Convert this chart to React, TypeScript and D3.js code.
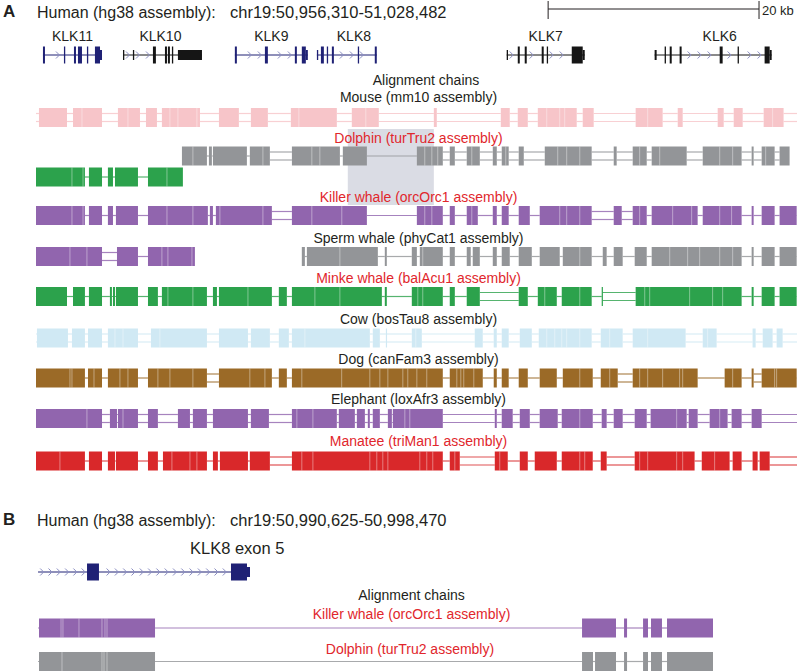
import React from 'react';
import * as d3 from 'd3';

type Block = [number, number];
type Exon = [number, number, 'c' | 'u'];

// ---------- DATA (all positions in kb from region start) ----------
const regionA = { chrom: 'chr19', start: 50956310, end: 51028482 };
const regionB = { chrom: 'chr19', start: 50990625, end: 50998470 };
const scaleBarKb = 20;
const scaleBarEndKb = 68.57;

const geneNames = ['KLK11', 'KLK10', 'KLK9', 'KLK8', 'KLK7', 'KLK6'];
const geneCanonical = [true, false, true, true, false, false];
const geneSpans: Block[] = [
  [0.66, 6.26], [8.25, 15.74], [18.86, 25.78], [26.64, 32.32], [44.64, 52.04], [58.67, 69.77],
];
const geneLabelKb = [3.46, 11.8, 22.32, 30.15, 48.34, 64.84];
const geneExons: Exon[][] = [
  [[0.66, 0.85, 'c'], [2.65, 2.75, 'c'], [3.6, 3.79, 'c'], [3.98, 4.36, 'c'], [4.83, 4.93, 'c'], [5.59, 6.07, 'c'], [6.07, 6.26, 'u']],
  [[8.25, 8.34, 'u'], [9.19, 9.29, 'u'], [11.09, 11.37, 'c'], [12.23, 12.42, 'c'], [12.51, 12.7, 'c'], [12.89, 12.99, 'c'], [13.46, 15.74, 'u']],
  [[18.86, 19.05, 'c'], [21.71, 21.99, 'c'], [24.55, 24.74, 'c'], [25.21, 25.59, 'c'], [25.59, 25.78, 'u']],
  [[26.64, 26.73, 'u'], [27.02, 27.3, 'c'], [27.58, 27.68, 'c'], [28.06, 28.25, 'c'], [30.52, 30.62, 'c'], [32.13, 32.32, 'c']],
  [[44.64, 44.74, 'u'], [45.69, 45.88, 'c'], [46.35, 46.54, 'c'], [47.96, 48.15, 'c'], [48.44, 48.53, 'c'], [50.81, 51.85, 'c'], [51.85, 52.04, 'u']],
  [[58.67, 58.86, 'u'], [59.62, 59.72, 'c'], [60.1, 60.29, 'c'], [61.04, 61.23, 'c'], [64.84, 65.12, 'c'], [66.54, 66.63, 'c'], [69.1, 69.58, 'c'], [69.58, 69.77, 'u']],
];

const highlightA: Block = [29.57, 37.73];

const speciesA = [
  'Mouse (mm10 assembly)', 'Dolphin (turTru2 assembly)', 'Killer whale (orcOrc1 assembly)',
  'Sperm whale (phyCat1 assembly)', 'Minke whale (balAcu1 assembly)', 'Cow (bosTau8 assembly)',
  'Dog (canFam3 assembly)', 'Elephant (loxAfr3 assembly)', 'Manatee (triMan1 assembly)',
];
const speciesRed = [false, true, true, false, true, false, false, false, true];

const mouseBlocks: Block[] = [[0.28, 2.94], [3.51, 6.26], [7.77, 9.86], [10.43, 11.47], [11.94, 15.55], [17.35, 19.24], [20.38, 21.99], [24.17, 28.53], [29.95, 32.51], [37.73, 38.01], [44.08, 44.93], [45.69, 46.64], [47.59, 51.28], [51.85, 52.89], [56.87, 59.43], [60.86, 61.33], [64.65, 65.22], [66.17, 67.02], [69.01, 70.9]];
const mouseSeps = [4.36, 8.72, 12.7, 13.46, 15.26, 24.93, 31.28, 48.44, 49.67, 50.14, 58.01, 69.86];
const mouseDoubles: Block[] = [[0, 72.2]];

const dolphinBlocks: Block[] = [[13.84, 16.21], [16.4, 16.68], [16.78, 20.0], [20.28, 22.18], [24.27, 28.82], [29.1, 31.38], [36.12, 38.58], [39.24, 39.72], [40.85, 42.09], [43.32, 43.7], [44.17, 44.83], [45.78, 46.26], [48.25, 52.7], [54.79, 55.07], [56.59, 57.92], [58.39, 61.71], [63.23, 66.92], [67.87, 68.06], [68.82, 70.05], [70.52, 71.47]];
const dolphinSeps = [14.88, 21.52, 26.16, 26.92, 36.87, 37.54, 38.1, 41.33, 44.55, 49.48, 50.33, 51.57, 57.25, 59.15, 64.84, 66.07, 69.2];
const dolphinDoubles: Block[] = [[22.18, 24.27], [38.58, 72.2]];

const dolphin2Blocks: Block[] = [[0, 4.64], [5.02, 6.26], [6.82, 7.3], [7.49, 9.67], [10.62, 13.93]];
const dolphin2Seps = [3.41, 4.46, 12.42];

const killerBlocks: Block[] = [[0, 4.64], [5.02, 6.26], [6.82, 7.3], [7.58, 9.67], [10.62, 16.3], [16.49, 16.78], [17.06, 22.37], [24.27, 31.38], [36.12, 38.58], [39.24, 39.72], [40.85, 41.9], [43.32, 43.7], [44.17, 44.83], [45.78, 46.83], [47.77, 52.7], [54.79, 55.55], [56.59, 57.92], [58.39, 62.75], [63.23, 66.92], [67.87, 68.06], [68.82, 70.05], [70.52, 72.14]];
const killerSeps = [3.41, 4.46, 12.42, 14.88, 17.44, 21.52, 26.16, 29.0, 36.87, 37.54, 41.33, 49.67, 50.33, 51.57, 57.25, 60.38, 62.18, 64.84, 65.97];
const killerDoubles: Block[] = [[22.37, 24.27], [52.7, 54.79], [55.55, 56.59]];

const spermBlocks: Block[] = [[0, 6.26], [7.68, 9.67], [10.62, 15.07]];
const spermSeps = [3.22, 4.83, 11.94, 12.51, 14.79];
const spermDoubles: Block[] = [[6.26, 7.68]];
const sperm2Blocks: Block[] = [[25.21, 25.5], [25.69, 32.42], [33.08, 33.27], [35.64, 36.12], [36.4, 38.58], [39.24, 39.72], [40.85, 41.23], [41.42, 42.09], [43.32, 43.7], [44.17, 44.93], [45.78, 47.02], [47.77, 49.67], [49.96, 52.7], [53.75, 54.12], [54.79, 55.64], [56.78, 57.92], [58.39, 66.92], [67.87, 68.06], [68.82, 70.05], [70.52, 72.14]];
const sperm2Seps = [28.82, 36.68, 51.57, 60.1, 61.8, 62.94, 64.84, 66.07];

const minkeBlocks: Block[] = [[0, 2.94], [3.51, 4.64], [5.02, 6.26], [7.01, 7.2], [7.3, 7.49], [7.58, 9.67], [10.62, 11.56], [11.94, 16.21], [16.78, 17.16], [17.35, 22.37], [23.03, 23.79], [24.27, 32.8], [33.08, 33.27], [35.64, 38.58], [39.24, 39.72], [40.85, 42.09], [45.78, 46.64], [47.59, 49.39], [49.86, 52.7], [53.65, 53.75], [56.87, 66.92], [67.87, 68.06], [68.82, 70.05], [70.52, 72.14]];
const minkeSeps = [12.51, 14.88, 20.1, 26.45, 28.82, 36.21, 36.68, 48.25, 51.57, 57.73, 58.2, 61.99, 64.17, 65.12];
const minkeDoubles: Block[] = [[42.09, 45.78], [53.75, 56.87]];

const cowBlocks: Block[] = [[0.09, 3.03], [3.41, 4.64], [4.93, 6.26], [6.82, 9.67], [10.9, 16.21], [17.35, 20.1], [20.38, 22.18], [23.03, 23.98], [24.27, 31.66], [31.94, 32.61], [33.18, 33.27], [35.64, 36.59], [41.61, 42.37], [43.41, 43.7], [44.17, 44.83], [45.88, 47.02], [47.68, 52.7], [53.56, 55.64], [56.59, 61.61], [63.23, 64.55], [67.96, 68.25], [68.92, 69.86], [70.24, 70.81]];
const cowSeps = [7.49, 8.25, 11.75, 25.5, 36.02, 48.44, 49.2, 49.86, 50.33, 51.57, 54.41, 58.01, 63.7];
const cowDoubles: Block[] = [[0, 72.2]];

const dogBlocks: Block[] = [[0, 4.64], [4.93, 6.26], [6.82, 9.67], [10.62, 16.21], [17.35, 22.37], [23.03, 23.79], [24.27, 38.58], [39.24, 42.37], [43.41, 43.7], [44.17, 44.83], [45.78, 46.64], [47.77, 49.39], [49.96, 52.8], [53.56, 55.17], [56.59, 62.75], [65.31, 66.92], [67.87, 68.06], [68.82, 72.14]];
const dogSeps = [3.22, 3.41, 5.5, 7.96, 8.72, 11.56, 12.7, 14.88, 20.28, 21.71, 25.21, 28.99, 31.66, 32.61, 33.37, 34.79, 35.26, 36.12, 37.06, 39.91, 40.29, 40.57, 41.52, 51.57, 54.41, 57.25, 58.01, 59.43, 61.04, 61.33, 66.07, 70.05, 70.24];
const dogDoubles: Block[] = [[16.21, 17.35], [55.17, 56.59], [68.06, 68.82]];

const elephantBlocks: Block[] = [[0, 6.26], [7.01, 7.68], [7.77, 9.67], [10.62, 11.56], [13.46, 14.6], [14.88, 16.21], [16.78, 20.1], [20.38, 22.09], [24.27, 28.53], [28.72, 30.24], [30.43, 31.19], [31.47, 31.66], [31.94, 32.61], [33.37, 33.75], [33.84, 38.58], [43.51, 43.7], [44.17, 45.21], [45.88, 46.83], [47.77, 49.48], [49.86, 52.8], [53.65, 54.12], [54.79, 55.64], [56.78, 57.92], [58.29, 61.71], [61.9, 62.75], [63.89, 65.59], [65.97, 66.92], [67.87, 68.82]];
const elephantSeps = [4.83, 8.25, 24.74, 26.26, 34.98, 35.45, 51.57, 60.76, 64.84];
const elephantDoubles: Block[] = [[0, 72.2]];

const manateeBlocks: Block[] = [[0, 4.64], [5.02, 6.26], [6.82, 7.49], [7.58, 9.67], [10.62, 11.56], [12.04, 16.21], [16.78, 17.25], [17.44, 20.1], [20.28, 22.18], [24.27, 38.58], [39.24, 40.19], [43.51, 44.74], [45.88, 46.64], [47.3, 49.39], [49.86, 52.8], [53.56, 54.12], [56.78, 62.46], [63.14, 65.78], [66.07, 66.92], [67.96, 68.44], [68.63, 69.58]];
const manateeSeps = [2.27, 12.89, 14.6, 15.26, 25.21, 26.26, 31.66, 32.32, 32.89, 33.37, 36.4, 37.06, 37.63, 39.72, 43.98, 51.57, 52.04, 57.25, 58.01, 60.76, 61.33, 64.36];
const manateeDoubles: Block[] = [[22.18, 24.27], [40.19, 43.51], [54.12, 56.78], [69.58, 72.2]];

// Panel B (kb from chr19:50,990,625)
const geneBName = 'KLK8 exon 5';
const geneBSpan: Block = [0.021, 2.206];
const geneBExons: Exon[] = [[0.526, 0.649, 'c'], [2.01, 2.175, 'c'], [2.175, 2.206, 'u']];
const speciesB = ['Killer whale (orcOrc1 assembly)', 'Dolphin (turTru2 assembly)'];
const killerBBlocks: Block[] = [[0.031, 1.227], [5.629, 5.979], [6.062, 6.093], [6.258, 6.309], [6.34, 6.453], [6.505, 6.979]];
const killerBSeps = [0.258, 0.278, 0.443, 0.68, 0.711, 0.732];
const dolphinBBlocks: Block[] = [[0.031, 1.227], [5.629, 5.742], [5.763, 5.979], [6.062, 6.093], [6.258, 6.309], [6.34, 6.453], [6.505, 6.979]];
const dolphinBSeps = [0.268, 0.68, 0.701, 0.732];

// ---------- STYLE / LAYOUT ----------
const FONT = "'Liberation Sans', Arial, Helvetica, sans-serif";
const C = {
  pink: '#f7c5c9', gray: '#939598', green: '#2ca24c', purple: '#9165ae',
  cow: '#d0e9f4', brown: '#9b6a27', red: '#d9282a', navy: '#1f2175', black: '#151515',
  chev: '#8a8dc2', label: '#231f20', labelRed: '#e1262c', hl: '#dadce4',
};
const W = 797, H = 671;
const BH = 19;

type Chain = { color: string; blocks: Block[]; seps: number[]; doubles: Block[]; line: Block; y: number };

const rowsA = [117.5, 156, 215.5, 256.5, 296.5, 338, 378, 418.5, 461];
const labelYA = [102, 143, 202, 243, 283, 324, 364, 404, 446];

const kbA = (regionA.end - regionA.start) / 1000;
const kbB = (regionB.end - regionB.start) / 1000;
const xA = d3.scaleLinear().domain([0, kbA]).range([36, 797]);
const xB = d3.scaleLinear().domain([0, kbB]).range([36, 797]);

const chainsA: Chain[] = [
  { color: C.pink, blocks: mouseBlocks, seps: mouseSeps, doubles: mouseDoubles, line: [0, kbA], y: rowsA[0] },
  { color: C.gray, blocks: dolphinBlocks, seps: dolphinSeps, doubles: dolphinDoubles, line: [13.84, 71.47], y: rowsA[1] },
  { color: C.green, blocks: dolphin2Blocks, seps: dolphin2Seps, doubles: [], line: [0, 13.93], y: 177 },
  { color: C.purple, blocks: killerBlocks, seps: killerSeps, doubles: killerDoubles, line: [0, kbA], y: rowsA[2] },
  { color: C.purple, blocks: spermBlocks, seps: spermSeps, doubles: spermDoubles, line: [0, 15.07], y: rowsA[3] },
  { color: C.gray, blocks: sperm2Blocks, seps: sperm2Seps, doubles: [], line: [25.21, kbA], y: rowsA[3] },
  { color: C.green, blocks: minkeBlocks, seps: minkeSeps, doubles: minkeDoubles, line: [0, kbA], y: rowsA[4] },
  { color: C.cow, blocks: cowBlocks, seps: cowSeps, doubles: cowDoubles, line: [0, kbA], y: rowsA[5] },
  { color: C.brown, blocks: dogBlocks, seps: dogSeps, doubles: dogDoubles, line: [0, kbA], y: rowsA[6] },
  { color: C.purple, blocks: elephantBlocks, seps: elephantSeps, doubles: elephantDoubles, line: [0, kbA], y: rowsA[7] },
  { color: C.red, blocks: manateeBlocks, seps: manateeSeps, doubles: manateeDoubles, line: [0, kbA], y: rowsA[8] },
];

const chainsB: Chain[] = [
  { color: C.purple, blocks: killerBBlocks, seps: killerBSeps, doubles: [], line: [0.021, 6.979], y: 628 },
  { color: C.gray, blocks: dolphinBBlocks, seps: dolphinBSeps, doubles: [], line: [0.021, 6.979], y: 661.5 },
];

function ChainRow({ c, x, k }: { c: Chain; x: d3.ScaleLinear<number, number>; k: string }) {
  const blocks = [...c.blocks].sort((a, b) => a[0] - b[0]);
  const gaps: Block[] = [];
  let cur = c.line[0];
  blocks.forEach((b) => {
    if (b[0] > cur) gaps.push([cur, b[0]]);
    cur = Math.max(cur, b[1]);
  });
  if (c.line[1] > cur) gaps.push([cur, c.line[1]]);
  const isDouble = (g: Block) => c.doubles.some((d) => (g[0] + g[1]) / 2 >= d[0] && (g[0] + g[1]) / 2 <= d[1]);
  const lines: JSX.Element[] = [];
  gaps.forEach((g, i) => {
    const x0 = x(g[0]), x1 = x(g[1]);
    if (isDouble(g)) {
      [-4, 4].forEach((dy, j) =>
        lines.push(<line key={`${k}g${i}-${j}`} x1={x0} x2={x1} y1={c.y + dy} y2={c.y + dy} stroke={c.color} strokeWidth={1.2} opacity={0.8} />));
    } else {
      lines.push(<line key={`${k}g${i}`} x1={x0} x2={x1} y1={c.y} y2={c.y} stroke={c.color} strokeWidth={1.2} opacity={0.8} />);
    }
  });
  return (
    <g>
      {lines}
      {blocks.map((b, i) => (
        <rect key={`${k}b${i}`} x={x(b[0])} y={c.y - BH / 2} width={Math.max(1.2, x(b[1]) - x(b[0]))} height={BH} fill={c.color} />
      ))}
      {c.seps.map((s, i) => (
        <line key={`${k}s${i}`} x1={x(s)} x2={x(s)} y1={c.y - BH / 2} y2={c.y + BH / 2} stroke="#fff" strokeWidth={1} opacity={0.4} />
      ))}
    </g>
  );
}

function Gene({ span, exons, color, x, y, step, k }: { span: Block; exons: Exon[]; color: string; x: d3.ScaleLinear<number, number>; y: number; step: number; k: string }) {
  const px0 = x(span[0]), px1 = x(span[1]);
  const chevs = d3.range(px0 + step / 2, px1 - 2, step).filter((p) =>
    !exons.some((e) => p >= x(e[0]) - 3 && p <= x(e[1]) + 3));
  return (
    <g>
      <line x1={px0} x2={px1} y1={y} y2={y} stroke={color} strokeWidth={1} />
      {chevs.map((p, i) => (
        <path key={`${k}c${i}`} d={`M${p - 2},${y - 3.5}L${p + 1.5},${y}L${p - 2},${y + 3.5}`} fill="none" stroke={C.chev} strokeWidth={1} />
      ))}
      {exons.map((e, i) => {
        const h = e[2] === 'c' ? 17 : 10;
        return <rect key={`${k}e${i}`} x={x(e[0])} y={y - h / 2} width={Math.max(1.3, x(e[1]) - x(e[0]))} height={h} fill={color} />;
      })}
    </g>
  );
}

const fmt = d3.format(',');

export default function App() {
  const tA = `${regionA.chrom}:${fmt(regionA.start)}-${fmt(regionA.end)}`;
  const tB = `${regionB.chrom}:${fmt(regionB.start)}-${fmt(regionB.end)}`;
  const sbX0 = xA(scaleBarEndKb - scaleBarKb), sbX1 = xA(scaleBarEndKb);
  return (
    <svg width={W} height={H} style={{ position: 'absolute', left: 0, top: 0, background: '#fff' }} fontFamily={FONT}>
      {/* Panel A header */}
      <text x={3} y={17} fontSize={17} fontWeight="bold" fill={C.label}>A</text>
      <text x={37} y={17.5} fontSize={16} fill={C.label}>Human (hg38 assembly):</text>
      <text x={230} y={17.5} fontSize={16.5} fill={C.label}>{tA}</text>
      <line x1={sbX0} x2={sbX1} y1={9} y2={9} stroke={C.label} strokeWidth={1} />
      <line x1={sbX0} x2={sbX0} y1={1} y2={19} stroke={C.label} strokeWidth={1} />
      <line x1={sbX1} x2={sbX1} y1={1} y2={19} stroke={C.label} strokeWidth={1} />
      <text x={sbX1 + 3} y={15} fontSize={13} fill={C.label}>{`${scaleBarKb} kb`}</text>

      {/* Genes */}
      {geneNames.map((n, i) => (
        <g key={n}>
          <text x={xA(geneLabelKb[i])} y={41} fontSize={14} textAnchor="middle" fill={C.label}>{n}</text>
          <Gene span={geneSpans[i]} exons={geneExons[i]} color={geneCanonical[i] ? C.navy : C.black} x={xA} y={55} step={10} k={n} />
        </g>
      ))}

      {/* highlight */}
      <rect x={xA(highlightA[0])} y={129} width={xA(highlightA[1]) - xA(highlightA[0])} height={76} fill={C.hl} />

      <text x={426} y={85} fontSize={14} textAnchor="middle" fill={C.label}>Alignment chains</text>
      {speciesA.map((s, i) => (
        <text key={s} x={418.5} y={labelYA[i]} fontSize={14} textAnchor="middle" fill={speciesRed[i] ? C.labelRed : C.label}>{s}</text>
      ))}
      {chainsA.map((c, i) => <ChainRow key={`a${i}`} c={c} x={xA} k={`a${i}`} />)}

      {/* Panel B */}
      <text x={3} y={525} fontSize={17} fontWeight="bold" fill={C.label}>B</text>
      <text x={37} y={525.5} fontSize={16} fill={C.label}>Human (hg38 assembly):</text>
      <text x={230} y={525.5} fontSize={16.5} fill={C.label}>{tB}</text>
      <text x={190} y={554} fontSize={16.5} fill={C.label}>{geneBName}</text>
      <Gene span={geneBSpan} exons={geneBExons} color={C.navy} x={xB} y={572} step={8.3} k="gb" />
      <text x={411.5} y={600} fontSize={14} textAnchor="middle" fill={C.label}>Alignment chains</text>
      <text x={411.5} y={619} fontSize={14} textAnchor="middle" fill={C.labelRed}>{speciesB[0]}</text>
      <text x={410} y={654} fontSize={14} textAnchor="middle" fill={C.labelRed}>{speciesB[1]}</text>
      {chainsB.map((c, i) => <ChainRow key={`b${i}`} c={c} x={xB} k={`b${i}`} />)}
    </svg>
  );
}
